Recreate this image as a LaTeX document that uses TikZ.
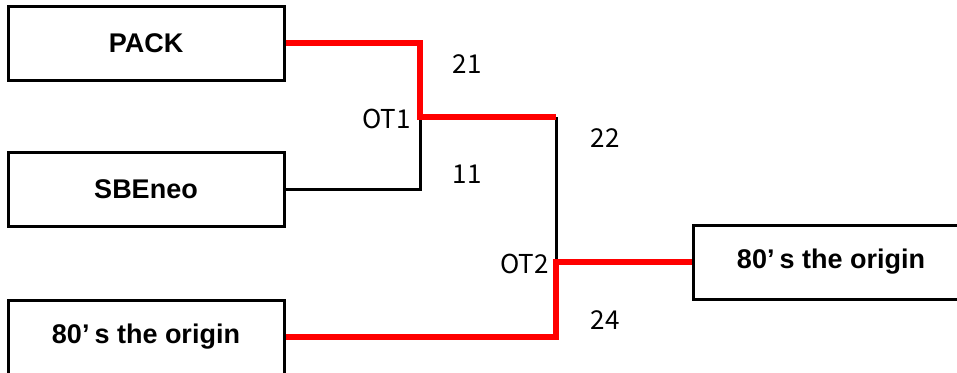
\documentclass[tikz,border=0pt]{standalone}
\usepackage{fontspec}
\setmainfont{Noto Sans CJK JP}
\newfontfamily\boxfont{Liberation Sans}
\begin{document}
\begin{tikzpicture}[x=1pt,y=-1pt,
  teambox/.style={draw=black,line width=3pt,fill=white,minimum width=276pt,minimum height=74pt,inner sep=0pt,font=\boxfont\fontsize{27}{30}\selectfont\bfseries},
  lbl/.style={inner sep=0pt,font=\fontsize{26}{30}\selectfont},
  blk/.style={draw=black,line width=3pt},
  win/.style={draw=red,line width=6.5pt}]
\useasboundingbox (0,0) rectangle (957,372);
\begin{scope}
\clip (0,0) rectangle (957,372);
\node[teambox] (pack) at (146,43) {PACK};
\node[teambox] (sbe) at (146,189) {SBEneo};
\node[teambox] (bot) at (146,337) {80’\kern5pt s the origin};
\node[teambox] (fin) at (831,262) {80’\kern5pt s the origin};
\coordinate (ot1) at (420,117);
\coordinate (j1) at (556,117);
\coordinate (ot2) at (556,262);
\draw[blk] (sbe.east) -| (ot1);
\draw[blk] (j1) -- (ot2);
\draw[win] (pack.east) -| (ot1) -- (j1);
\draw[win] (bot.east) -| (ot2) -- (fin.west);
\end{scope}
\node[lbl] (l21) at (467,64) {21};
\node[lbl] (l11) at (467,174) {11};
\node[lbl] (l22) at (605,138) {22};
\node[lbl] (l24) at (605,320) {24};
\node[lbl,anchor=east] (lot1) at (411,119) {OT1};
\node[lbl,anchor=east] (lot2) at (549,264) {OT2};
\end{tikzpicture}
\end{document}
